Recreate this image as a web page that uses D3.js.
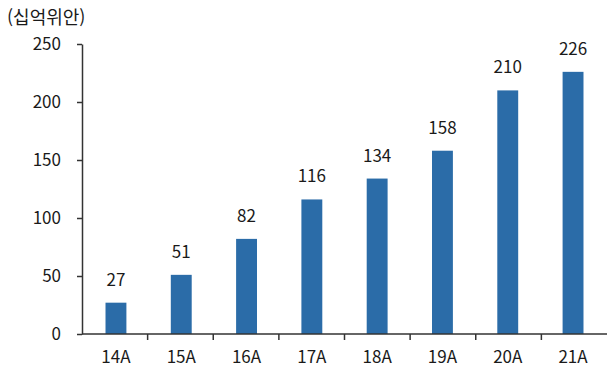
<!DOCTYPE html>
<html lang="ko">
<head>
<meta charset="utf-8" />
<title>Bar chart</title>
<script src="https://d3js.org/d3.v7.min.js"></script>
<style>
  body { margin: 0; background: #fff; }
  text { font-family: "Noto Sans CJK KR", "Noto Sans", sans-serif; fill: #1a1a1a; }
  .axis path, .axis line { stroke: #333; stroke-width: 1.5; }
</style>
</head>
<body>
<div id="chart"></div>
<script>
var years = ["14A", "15A", "16A", "17A", "18A", "19A", "20A", "21A"];
var values = [27, 51, 82, 116, 134, 158, 210, 226];
var yTicks = [0, 50, 100, 150, 200, 250];
var unitLabel = "(십억위안)";

var width = 607, height = 371;
var plotLeft = 82, plotRight = 607, plotTop = 44, plotBottom = 334;

var svg = d3.select("#chart").append("svg")
  .attr("width", width)
  .attr("height", height);

var x = d3.scaleBand().domain(years).range([plotLeft, plotRight]).paddingInner(0.68).paddingOuter(0.36);
var xEdges = d3.scaleBand().domain(years).range([plotLeft, plotRight]);
var y = d3.scaleLinear().domain([0, 250]).range([plotBottom, plotTop]);

// bars
svg.selectAll("rect.bar")
  .data(values)
  .enter().append("rect")
  .attr("class", "bar")
  .attr("x", function(d, i) { return x(years[i]); })
  .attr("width", x.bandwidth())
  .attr("y", function(d) { return y(d); })
  .attr("height", function(d) { return plotBottom - y(d); })
  .attr("fill", "#2b6ca8");

// value labels
svg.selectAll("text.val")
  .data(values)
  .enter().append("text")
  .attr("class", "val")
  .attr("x", function(d, i) { return x(years[i]) + x.bandwidth() / 2; })
  .attr("y", function(d) { return y(d) - 17; })
  .attr("text-anchor", "middle")
  .style("font-size", "17px")
  .text(function(d) { return d; });

// y axis
var yAxis = d3.axisLeft(y).tickValues(yTicks).tickSize(5).tickPadding(16).tickSizeOuter(0);
var gy = svg.append("g").attr("class", "axis")
  .attr("transform", "translate(" + plotLeft + ",0)")
  .call(yAxis);
gy.selectAll("text").style("font-size", "17px").style("font-family", null);

// x axis: line + ticks at category boundaries
var gx = svg.append("g").attr("class", "axis")
  .attr("transform", "translate(0," + plotBottom + ")");
gx.append("line").attr("x1", plotLeft).attr("x2", plotRight).attr("y1", 0).attr("y2", 0);
gx.selectAll("line.tick")
  .data(years.slice(1))
  .enter().append("line")
  .attr("class", "tick")
  .attr("x1", function(d) { return xEdges(d); })
  .attr("x2", function(d) { return xEdges(d); })
  .attr("y1", 0).attr("y2", 6);
gx.selectAll("text")
  .data(years)
  .enter().append("text")
  .attr("x", function(d) { return x(d) + x.bandwidth() / 2; })
  .attr("y", 29)
  .attr("text-anchor", "middle")
  .style("font-size", "17px")
  .text(function(d) { return d; });

// unit label
svg.append("text")
  .attr("x", 7).attr("y", 24)
  .style("font-size", "18px")
  .text(unitLabel);
</script>
</body>
</html>
